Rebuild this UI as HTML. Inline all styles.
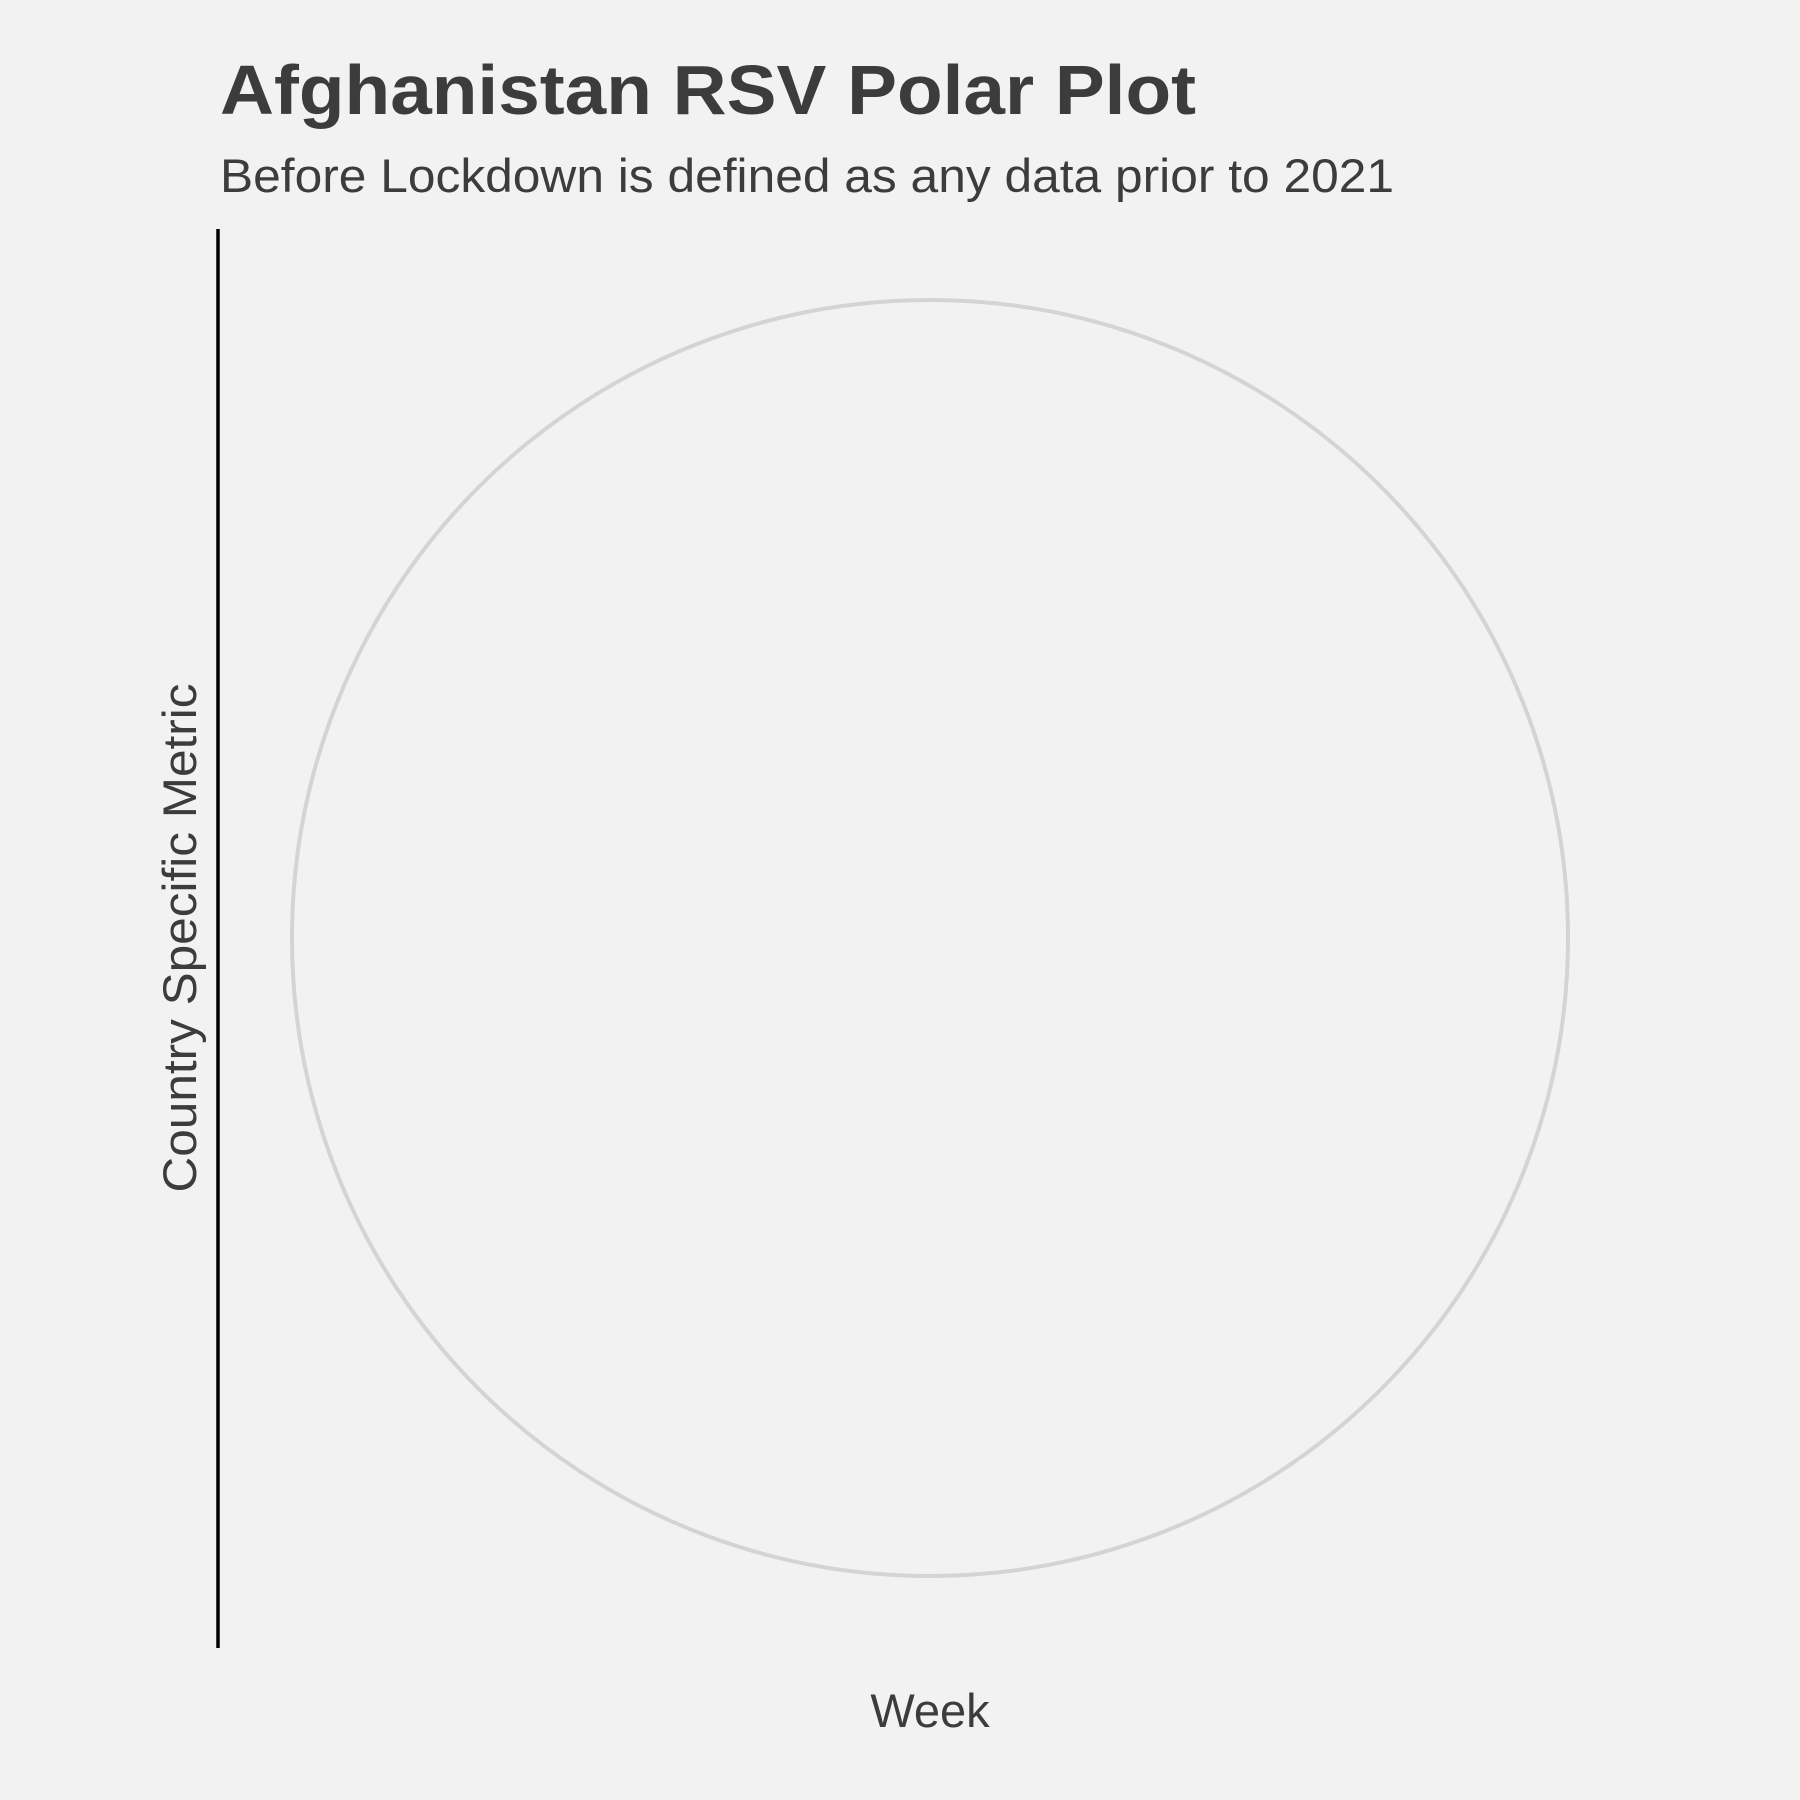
<!DOCTYPE html>
<html>
<head>
<meta charset="utf-8">
<style>
  html, body { margin: 0; padding: 0; background: #f2f2f2; }
  svg { display: block; }
  text { font-family: "Liberation Sans", Arial, sans-serif; fill: #3c3c3c; }
</style>
</head>
<body>
<svg width="1800" height="1800" viewBox="0 0 1800 1800">
  <rect x="0" y="0" width="1800" height="1800" fill="#f2f2f2"/>
  <text x="220" y="114" font-size="70" font-weight="bold" textLength="976" lengthAdjust="spacingAndGlyphs">Afghanistan RSV Polar Plot</text>
  <text x="220" y="192" font-size="47" textLength="1174" lengthAdjust="spacingAndGlyphs">Before Lockdown is defined as any data prior to 2021</text>
  <line x1="218" y1="229" x2="218" y2="1648" stroke="#000" stroke-width="3.5"/>
  <circle cx="930" cy="938" r="638" fill="none" stroke="#d4d4d4" stroke-width="4"/>
  <text x="0" y="0" font-size="47" text-anchor="middle" textLength="509" lengthAdjust="spacingAndGlyphs" transform="translate(196,938) rotate(-90)">Country Specific Metric</text>
  <text x="930" y="1727" font-size="47" text-anchor="middle">Week</text>
</svg>
</body>
</html>
